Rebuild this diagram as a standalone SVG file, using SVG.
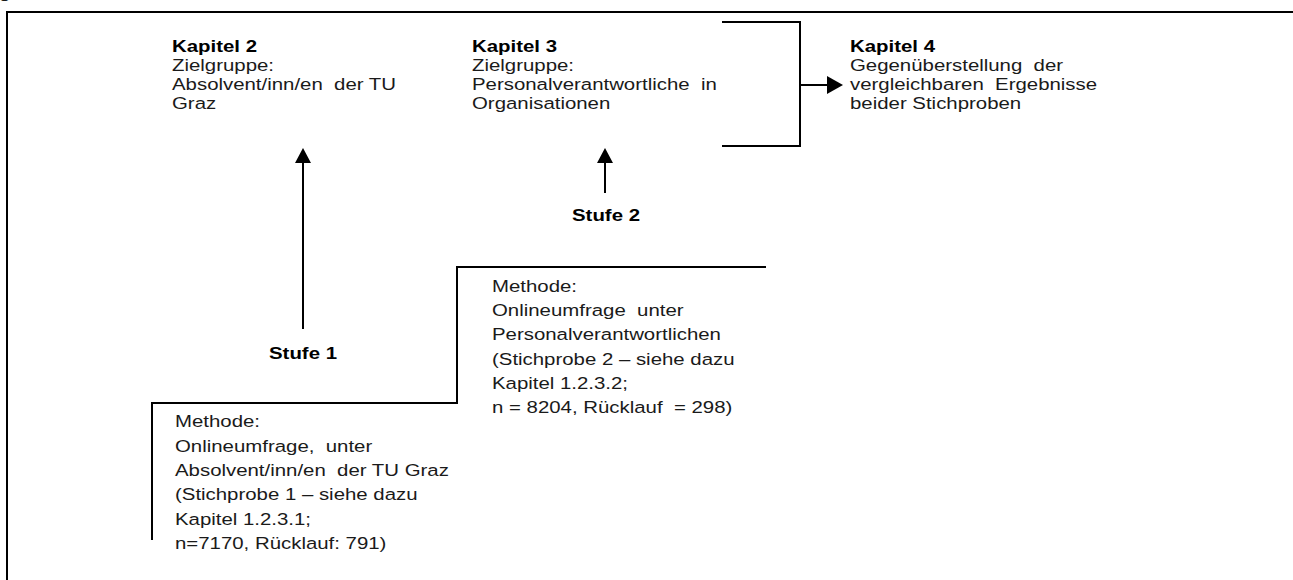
<svg xmlns="http://www.w3.org/2000/svg" width="1293" height="580" viewBox="0 0 1293 580">
<style>
text{font-family:"Liberation Sans",Arial,sans-serif;font-size:17px;fill:#1a1a1a;white-space:pre}
.b{font-weight:bold;fill:#000}
.ln{stroke:#000;stroke-width:2;fill:none}
.ah{fill:#000}
</style>
<rect width="1293" height="580" fill="#fff"/>
<text transform="matrix(1.2,0,0,1,-1,-2)">g</text>
<g id="frame"><path class="ln" d="M7,580 V12 H1293"/></g>
<g id="connectors">
<path class="ln" d="M303,329 V162"/>
<path class="ah" d="M295,163 L303,148 L311,163 Z"/>
<path class="ln" d="M605,193 V162"/>
<path class="ah" d="M597,163 L605,148 L613,163 Z"/>
<path class="ln" d="M722,22 H800 V146 H722"/>
<path class="ln" d="M800,85 H828"/>
<path class="ah" d="M827,76 L843,85 L827,94 Z"/>
<path class="ln" d="M152,540 V403 H457 V267 H766"/>
</g>
<g id="kapitel2">
<text class="b" transform="matrix(1.2,0,0,1,172,52)">Kapitel 2</text>
<text transform="matrix(1.2,0,0,1,172,71)">Zielgruppe:</text>
<text transform="matrix(1.2,0,0,1,172,90)">Absolvent/inn/en  der TU</text>
<text transform="matrix(1.2,0,0,1,172,109)">Graz</text>
</g>
<g id="kapitel3">
<text class="b" transform="matrix(1.2,0,0,1,472,52)">Kapitel 3</text>
<text transform="matrix(1.2,0,0,1,472,71)">Zielgruppe:</text>
<text transform="matrix(1.2,0,0,1,472,90)">Personalverantwortliche  in</text>
<text transform="matrix(1.2,0,0,1,472,109)">Organisationen</text>
</g>
<g id="kapitel4">
<text class="b" transform="matrix(1.2,0,0,1,850,52)">Kapitel 4</text>
<text transform="matrix(1.2,0,0,1,850,71)">Gegenüberstellung  der</text>
<text transform="matrix(1.2,0,0,1,850,90)">vergleichbaren  Ergebnisse</text>
<text transform="matrix(1.2,0,0,1,850,109)">beider Stichproben</text>
</g>
<g id="stufe1"><text class="b" text-anchor="middle" transform="matrix(1.2,0,0,1,303,359)">Stufe 1</text></g>
<g id="stufe2"><text class="b" text-anchor="middle" transform="matrix(1.2,0,0,1,606,221)">Stufe 2</text></g>
<g id="methode2">
<text transform="matrix(1.2,0,0,1,492,292)">Methode:</text>
<text transform="matrix(1.2,0,0,1,492,316)">Onlineumfrage  unter</text>
<text transform="matrix(1.2,0,0,1,492,340)">Personalverantwortlichen</text>
<text transform="matrix(1.2,0,0,1,492,365)">(Stichprobe 2 – siehe dazu</text>
<text transform="matrix(1.2,0,0,1,492,389)">Kapitel 1.2.3.2;</text>
<text transform="matrix(1.2,0,0,1,492,413)">n = 8204, Rücklauf  = 298)</text>
</g>
<g id="methode1">
<text transform="matrix(1.2,0,0,1,175,427)">Methode:</text>
<text transform="matrix(1.2,0,0,1,175,452)">Onlineumfrage,  unter</text>
<text transform="matrix(1.2,0,0,1,175,476)">Absolvent/inn/en  der TU Graz</text>
<text transform="matrix(1.2,0,0,1,175,500)">(Stichprobe 1 – siehe dazu</text>
<text transform="matrix(1.2,0,0,1,175,525)">Kapitel 1.2.3.1;</text>
<text transform="matrix(1.2,0,0,1,175,549)">n=7170, Rücklauf: 791)</text>
</g>
</svg>
